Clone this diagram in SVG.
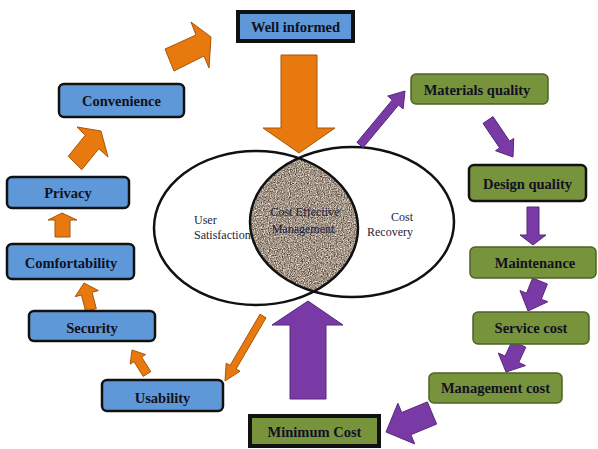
<svg xmlns="http://www.w3.org/2000/svg" width="598" height="449" viewBox="0 0 598 449">
<style>
.lbl{font-family:"Liberation Serif","Times New Roman",serif;font-weight:bold;font-size:14.5px;fill:#111122;text-anchor:middle}
.etxt{font-family:"Liberation Serif","Times New Roman",serif;font-size:12px;fill:#1c1c3a}
.blue{fill:#5f98d8;stroke:#111;stroke-width:2.5}
.green{fill:#77933c;stroke:#4f6228;stroke-width:1.5}
.greenk{fill:#77933c;stroke:#111;stroke-width:2.5}
.orange{fill:#e8790f;stroke:#a85508;stroke-width:1}
.purple{fill:#7a3aa6;stroke:#55287a;stroke-width:1}
.ell{fill:none;stroke:#111;stroke-width:2.5}
</style>
<defs>
<clipPath id="clipL"><ellipse cx="256" cy="228" rx="102" ry="77"/></clipPath>
<clipPath id="clipR"><ellipse cx="352" cy="222" rx="102" ry="75"/></clipPath>
<filter id="granite" x="0" y="0" width="100%" height="100%" color-interpolation-filters="sRGB">
<feTurbulence type="fractalNoise" baseFrequency="0.85" numOctaves="2" seed="4" result="n"/>
<feColorMatrix in="n" type="matrix" values="1.1 0 0 0 0.08  1.1 0 0 0 0.03  1.1 0 0 0 -0.02  0 0 0 0 1"/>
</filter>
</defs>
<rect width="598" height="449" fill="#fff"/>

<g id="venn">
<ellipse cx="256" cy="228" rx="102" ry="77" fill="#fff"/>
<ellipse cx="352" cy="222" rx="102" ry="75" fill="#fff"/>
<g clip-path="url(#clipL)"><rect x="240" y="140" width="130" height="170" filter="url(#granite)" clip-path="url(#clipR)"/></g>
<ellipse class="ell" cx="256" cy="228" rx="102" ry="77"/>
<ellipse class="ell" cx="352" cy="222" rx="102" ry="75"/>
<text class="etxt" x="194" y="224">User</text>
<text class="etxt" x="194" y="239">Satisfaction</text>
<text class="etxt" x="305" y="216" text-anchor="middle">Cost Effective</text>
<text class="etxt" x="303" y="233" text-anchor="middle">Management</text>
<text class="etxt" x="413" y="221" text-anchor="end">Cost</text>
<text class="etxt" x="413" y="236" text-anchor="end">Recovery</text>
</g>

<g id="connectors">
<polygon class="orange" points="281,55 317,55 317,128 335,128 299,153 263,128 281,128"/>
<polygon class="orange" points="165,49 196,35 191,22 211,37 209,68 204,56 174,71"/>
<polygon class="orange" points="68.2,156.3 85.2,135.3 77,127 101,131 108,157 98.8,148.7 81.8,169.7"/>
<polygon class="orange" points="55,237 55,220 48,220 62,213 77,220 70,220 70,237"/>
<polygon class="orange" points="96.3,308.6 92.1,292.3 98.4,290.6 84,283 75.1,296.7 81.4,295 85.7,311.4"/>
<polygon class="orange" points="150.8,371.6 141.6,357 145.5,354.6 132,350 130.2,364.1 134,361.7 143.2,376.4"/>
<polygon class="orange" points="260,314.2 230.1,365.4 226.2,363.2 225,381 240,371.2 236.1,369 266,317.8"/>
<polygon class="purple" points="290,399 290,325 272,325 308,301 343,325 326,325 326,399"/>
<polygon class="purple" points="363.1,147.6 398.5,105.1 403.1,108.9 405,91 387.7,96.1 392.3,99.9 356.9,142.4"/>
<polygon class="purple" points="483,123.4 499.6,147.9 495.5,150.7 513,157 513.7,138.4 509.6,141.2 493,116.6"/>
<polygon class="purple" points="527,207 527,235 520,235 533,245 546,235 539,235 539,207"/>
<polygon class="purple" points="532.6,278 526.5,293.2 520,290.6 528,311 547.8,301.8 541.3,299.2 547.4,284"/>
<polygon class="purple" points="512.2,340.8 505.1,356.1 498.3,353 506,372 525.5,365.6 518.7,362.5 525.8,347.2"/>
<polygon class="purple" points="427.4,401.9 401.7,412.5 397.9,403.3 386,432 414.7,443.9 410.9,434.7 436.6,424.1"/>
</g>

<g id="well-informed"><rect x="238" y="12" width="115" height="29" fill="#5f98d8" stroke="#111" stroke-width="4"/><text class="lbl" x="295.5" y="32">Well informed</text></g>
<g id="convenience"><rect class="blue" x="59" y="84" width="125" height="33" rx="5"/><text class="lbl" x="121.5" y="106">Convenience</text></g>
<g id="privacy"><rect class="blue" x="7" y="177" width="122" height="31" rx="5"/><text class="lbl" x="68" y="198">Privacy</text></g>
<g id="comfortability"><rect class="blue" x="7" y="244" width="127" height="35" rx="5"/><text class="lbl" x="71" y="268">Comfortability</text></g>
<g id="security"><rect class="blue" x="29" y="311" width="126" height="30" rx="5"/><text class="lbl" x="92" y="333">Security</text></g>
<g id="usability"><rect class="blue" x="102" y="380" width="121" height="31" rx="5"/><text class="lbl" x="162.5" y="403">Usability</text></g>
<g id="minimum-cost"><rect x="250" y="416" width="129" height="30" fill="#77933c" stroke="#111" stroke-width="4"/><text class="lbl" x="314.5" y="437">Minimum Cost</text></g>
<g id="materials-quality"><rect class="green" x="411" y="74" width="137" height="30" rx="5"/><text class="lbl" x="477" y="95">Materials quality</text></g>
<g id="design-quality"><rect class="greenk" x="469" y="165" width="117" height="36" rx="5"/><text class="lbl" x="527.5" y="189">Design quality</text></g>
<g id="maintenance"><rect class="green" x="470" y="247" width="126" height="31" rx="5"/><text class="lbl" x="535" y="268">Maintenance</text></g>
<g id="service-cost"><rect class="green" x="473" y="312" width="116" height="32" rx="5"/><text class="lbl" x="531" y="333">Service cost</text></g>
<g id="management-cost"><rect class="green" x="429" y="373" width="133" height="30" rx="5"/><text class="lbl" x="495.5" y="393">Management cost</text></g>
</svg>
